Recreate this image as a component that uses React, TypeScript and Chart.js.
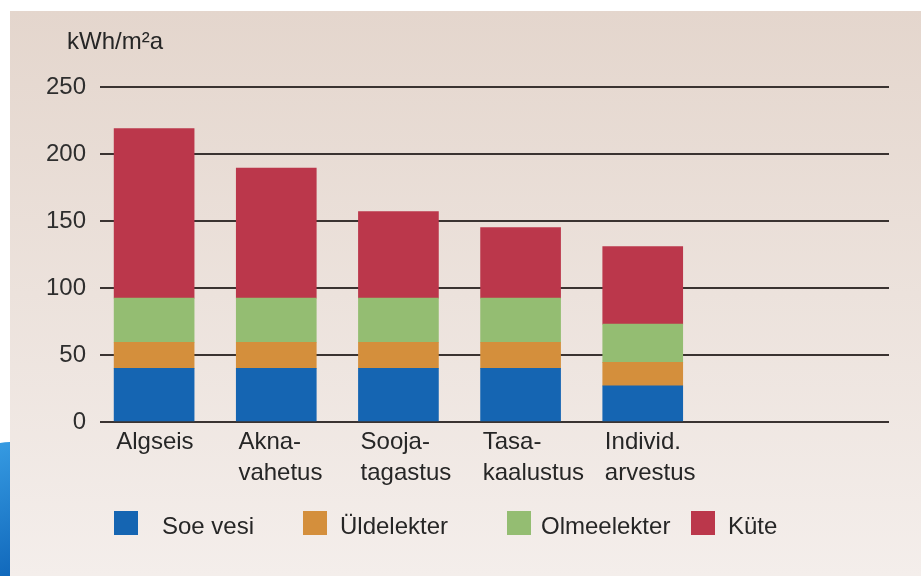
import React, { useEffect, useRef } from "react";
import { Chart, registerables } from "chart.js";

Chart.register(...registerables);

const categories: string[][] = [
  ["Algseis"],
  ["Akna-", "vahetus"],
  ["Sooja-", "tagastus"],
  ["Tasa-", "kaalustus"],
  ["Individ.", "arvestus"],
];
const seriesNames = ["Soe vesi", "Üldelekter", "Olmeelekter", "Küte"];
const soeVesi = [40, 40, 40, 40, 27];
const uldelekter = [19.5, 19.5, 19.5, 19.5, 17.5];
const olmeelekter = [33, 33, 33, 33, 28.5];
const kute = [126.5, 97, 64.5, 52.5, 58];
const yTicks = [0, 50, 100, 150, 200, 250];
const unitTitle = "kWh/m²a";

const colors = ["#1565b2", "#d48f3c", "#94bd72", "#bb374b"];
const FONT = '"Liberation Sans", Arial, Helvetica, sans-serif';

const legendBoxX = [114, 303, 507, 691];
const legendTextX = [162, 340, 541, 728];

const customLegend = {
  id: "customLegend",
  afterDraw(chart: any) {
    const ctx = chart.ctx;
    ctx.save();
    ctx.font = `24px ${FONT}`;
    ctx.textBaseline = "alphabetic";
    ctx.textAlign = "left";
    ctx.fillStyle = "#262626";
    ctx.fillText(unitTitle, 67, 49);
    chart.data.datasets.forEach((ds: any, i: number) => {
      ctx.fillStyle = ds.backgroundColor;
      ctx.fillRect(legendBoxX[i], 511, 24, 24);
      ctx.fillStyle = "#262626";
      ctx.fillText(ds.label, legendTextX[i], 534);
    });
    ctx.restore();
  },
};

export default function App() {
  const ref = useRef<HTMLCanvasElement | null>(null);
  useEffect(() => {
    if (!ref.current) return;
    const series = [soeVesi, uldelekter, olmeelekter, kute];
    const chart = new Chart(ref.current, {
      type: "bar",
      data: {
        datasets: series.map((vals, i) => ({
          label: seriesNames[i],
          data: vals.map((v, j) => ({ x: j + 1, y: v })),
          backgroundColor: colors[i],
          borderWidth: 0,
          barThickness: 80,
        })),
      },
      options: {
        responsive: false,
        animation: false,
        layout: { padding: { left: 30, right: 32, top: 87, bottom: 87 } },
        plugins: {
          legend: { display: false },
          tooltip: { enabled: false },
          title: { display: false },
        },
        scales: {
          x: {
            type: "linear",
            stacked: true,
            offset: false,
            min: 0.557,
            max: 7.016,
            grid: { display: false, drawTicks: false },
            border: { display: false },
            afterBuildTicks: (scale: any) => {
              scale.ticks = categories.map((_, i) => ({ value: i + 1 - 0.31 }));
            },
            afterFit: (scale: any) => {
              scale.height = 67;
            },
            ticks: {
              autoSkip: false,
              maxRotation: 0,
              minRotation: 0,
              align: "start",
              padding: 5,
              color: "#262626",
              font: { family: FONT, size: 24, lineHeight: 1.3 },
              callback: (_v: any, index: number) => categories[index],
            },
          },
          y: {
            stacked: true,
            min: 0,
            max: 250,
            afterBuildTicks: (scale: any) => {
              scale.ticks = yTicks.map((v) => ({ value: v }));
            },
            afterFit: (scale: any) => {
              scale.width = 70;
            },
            grid: { color: "#3a3331", lineWidth: 2, drawTicks: false },
            border: { display: false },
            ticks: {
              padding: 14,
              color: "#2e2e2e",
              font: { family: FONT, size: 24 },
            },
          },
        },
      },
      plugins: [customLegend],
    } as any);
    return () => chart.destroy();
  }, []);

  return (
    <div style={{ position: "absolute", left: 0, top: 0, width: 921, height: 576, background: "#ffffff", overflow: "hidden" }}>
      <div
        style={{
          position: "absolute",
          left: 10,
          top: 11,
          width: 911,
          height: 565,
          background: "linear-gradient(#e4d6cd, #f4eeeb)",
        }}
      />
      <div
        style={{
          position: "absolute",
          left: -40,
          top: 442,
          width: 50,
          height: 160,
          borderRadius: "50px 0 0 0",
          background: "linear-gradient(160deg, #3aa0e6, #0a5fb4)",
        }}
      />
      <canvas ref={ref} width={921} height={576} style={{ position: "absolute", left: 0, top: 0 }} />
    </div>
  );
}
